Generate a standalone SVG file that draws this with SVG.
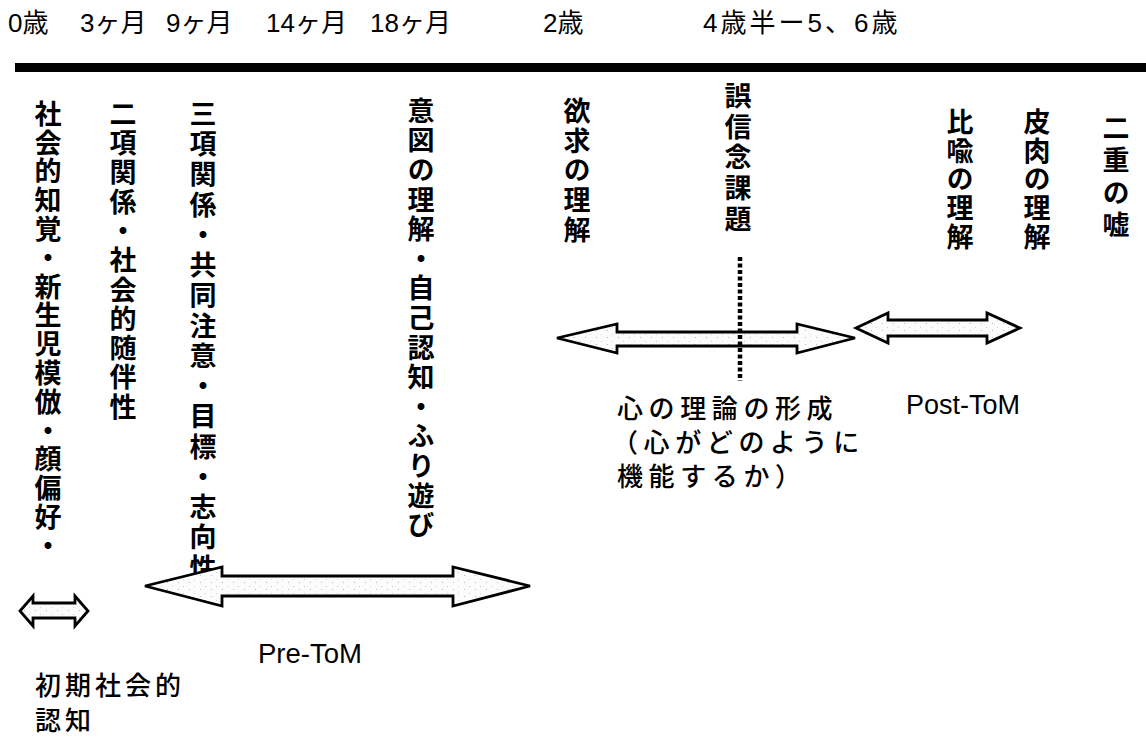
<svg xmlns="http://www.w3.org/2000/svg" width="1146" height="738" viewBox="0 0 1146 738">
<style>
.t{font-family:"Liberation Sans","Noto Sans CJK JP",sans-serif;fill:#000;font-size:26px}
.v{font-family:"Noto Sans CJK JP","Liberation Sans",sans-serif;font-size:27px;writing-mode:vertical-rl;fill:#000;font-weight:700}
.h{font-family:"Noto Sans CJK JP","Liberation Sans",sans-serif;fill:#000;font-weight:500}
.lat{font-family:"Liberation Sans",sans-serif;font-size:27px;fill:#000}
.arr{fill:url(#dots);stroke:#000;stroke-width:2.8;stroke-linejoin:miter}
</style>
<defs>
<pattern id="dots" width="11" height="7" patternUnits="userSpaceOnUse">
<rect width="11" height="7" fill="#fcfcfc"/>
<rect x="2" y="1" width="1" height="1" fill="#b8b8b8"/>
<rect x="7" y="5" width="1" height="1" fill="#d0d0d0"/>
</pattern>
</defs>
<rect width="1146" height="738" fill="#fff"/>
<g id="timeline">
<rect x="15" y="63" width="1131" height="9" fill="#000"/>
<text class="t" x="8" y="32">0歳</text>
<text class="t" x="80" y="32">3ヶ月</text>
<text class="t" x="166" y="32">9ヶ月</text>
<text class="t" x="266" y="32">14ヶ月</text>
<text class="t" x="370" y="32">18ヶ月</text>
<text class="t" x="543" y="32">2歳</text>
<text class="t" x="703" y="32" letter-spacing="3">4歳半ー5、6歳</text>
</g>
<g id="col1"><text class="v" x="48" y="100" letter-spacing="1.8">社会的知覚・新生児模倣・顔偏好・</text></g>
<g id="col2"><text class="v" x="123" y="100" letter-spacing="2.3">二項関係・社会的随伴性</text></g>
<g id="col3"><text class="v" x="203" y="100" letter-spacing="3.25">三項関係・共同注意・目標・志向性</text></g>
<g id="col4"><text class="v" x="421" y="97" letter-spacing="2.6">意図の理解・自己認知・ふり遊び</text></g>
<g id="col5"><text class="v" x="577" y="97" letter-spacing="2.8">欲求の理解</text></g>
<g id="col6"><text class="v" x="738" y="82" letter-spacing="3.8">誤信念課題</text></g>
<g id="col7"><text class="v" x="960" y="108" letter-spacing="1.8">比喩の理解</text></g>
<g id="col8"><text class="v" x="1037" y="108" letter-spacing="1.8">皮肉の理解</text></g>
<g id="col9"><text class="v" x="1116" y="114" letter-spacing="5.5">二重の嘘</text></g>
<g id="connectors">
<path class="arr" d="M20,611 L33,596 L33,603 L75,603 L75,596 L88,611 L75,626 L75,618 L33,618 L33,626 Z"/>
<path class="arr" d="M145,586 L222,567 L222,576 L453,576 L453,567 L530,586 L453,606 L453,596 L222,596 L222,606 Z"/>
<path class="arr" d="M557,338 L617,324 L617,332 L797,332 L797,324 L855,338 L797,353 L797,346 L617,346 L617,353 Z"/>
<path class="arr" d="M856,328 L888,313 L888,320 L987,320 L987,313 L1020,328 L987,343 L987,336 L888,336 L888,343 Z"/>
<line x1="740" y1="257" x2="740" y2="381" stroke="#000" stroke-width="4.5" stroke-dasharray="4 2.5"/>
</g>
<g id="label-early">
<text class="h" x="35" y="695" font-size="26" letter-spacing="4">初期社会的</text>
<text class="h" x="35" y="730" font-size="26" letter-spacing="4">認知</text>
</g>
<g id="label-pre"><text class="lat" x="258" y="663" textLength="104" lengthAdjust="spacingAndGlyphs">Pre-ToM</text></g>
<g id="label-tom">
<text class="h" x="617" y="418" font-size="26" letter-spacing="5.6">心の理論の形成</text>
<text class="h" x="612" y="452" font-size="26" letter-spacing="5.6">（心がどのように</text>
<text class="h" x="617" y="486" font-size="26" letter-spacing="5.6">機能するか）</text>
</g>
<g id="label-post"><text class="lat" x="906" y="414">Post-ToM</text></g>
</svg>
